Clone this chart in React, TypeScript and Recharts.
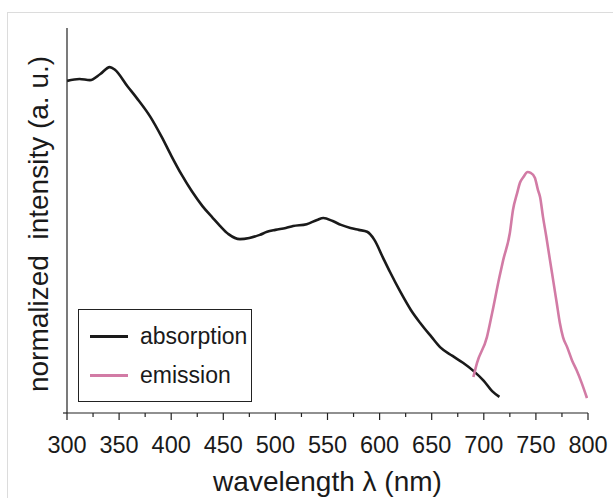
import React from "react";
import { LineChart, Line, XAxis, YAxis, Legend } from "recharts";

const absWavelength = [300, 312, 322, 332, 341, 346, 358, 367, 380, 391, 400, 410, 420, 430, 440, 447, 455, 466, 475, 485, 492, 500, 510, 517, 530, 540, 546, 555, 563, 572, 580, 588, 595, 603, 610, 620, 630, 639, 650, 658, 670, 680, 690, 700, 708, 715];
const absValues = [0.867, 0.872, 0.869, 0.885, 0.903, 0.896, 0.853, 0.822, 0.773, 0.72, 0.672, 0.622, 0.578, 0.54, 0.509, 0.488, 0.467, 0.454, 0.457, 0.465, 0.473, 0.478, 0.483, 0.488, 0.493, 0.504, 0.509, 0.501, 0.491, 0.483, 0.478, 0.473, 0.452, 0.407, 0.368, 0.316, 0.269, 0.235, 0.198, 0.172, 0.149, 0.131, 0.11, 0.084, 0.057, 0.042];

const emWavelength = [690, 693.5, 703, 708, 715, 718.6, 725, 728, 732, 734.7, 738, 742, 745, 749, 752, 754, 756.8, 760, 763.5, 767, 770, 773, 776, 780, 784.6, 789, 794, 799];
const emValues = [0.094, 0.131, 0.198, 0.261, 0.355, 0.399, 0.47, 0.53, 0.574, 0.601, 0.616, 0.629, 0.627, 0.614, 0.582, 0.564, 0.512, 0.46, 0.399, 0.339, 0.287, 0.235, 0.198, 0.172, 0.138, 0.112, 0.078, 0.039];

const xTicks = [300, 325, 350, 375, 400, 425, 450, 475, 500, 525, 550, 575, 600, 625, 650, 675, 700, 725, 750, 775, 800];

const absorption = absWavelength.map((w, i) => ({ x: w, y: absValues[i] }));
const emission = emWavelength.map((w, i) => ({ x: w, y: emValues[i] }));

const FONT = '"Liberation Sans", Arial, Helvetica, sans-serif';

const XTick = (props: any) => {
  const { x, y, payload } = props;
  const v = payload.value;
  const major = v % 50 === 0;
  return (
    <g>
      {v === 300 && <line x1={x - 4} x2={x} y1={y} y2={y} stroke="#222" strokeWidth={1.2} />}
      <line x1={x} x2={x} y1={y} y2={y + (major ? 7 : 4)} stroke="#222" strokeWidth={1.2} />
      {major && (
        <text x={x} y={y + 40} textAnchor="middle" fontSize={23.5} fill="#1a1a1a" fontFamily={FONT}>
          {v}
        </text>
      )}
    </g>
  );
};

const LegendBox = (props: any) => {
  const items = props.payload || [];
  return (
    <div
      style={{
        width: 174,
        height: 93,
        boxSizing: "border-box",
        border: "1.5px solid #222",
        background: "#fff",
        fontFamily: FONT,
        fontSize: 23,
        color: "#1a1a1a",
        position: "relative",
      }}
    >
      {items.map((it: any, i: number) => (
        <div
          key={it.value}
          style={{
            position: "absolute",
            left: 11,
            top: 26 + i * 39 - 14,
            height: 28,
            display: "flex",
            alignItems: "center",
            whiteSpace: "nowrap",
          }}
        >
          <span style={{ display: "inline-block", width: 38, height: 3, background: it.color, marginRight: 12 }} />
          <span>{it.value}</span>
        </div>
      ))}
    </div>
  );
};

export default function App() {
  return (
    <div style={{ position: "absolute", left: 0, top: 0, width: 613, height: 498, background: "#fff" }}>
      <div
        style={{
          position: "absolute",
          left: 7,
          top: 12,
          right: 0,
          bottom: 0,
          borderTop: "1.5px solid #dcdcdc",
          borderLeft: "1.5px solid #dcdcdc",
        }}
      />
      <div
        style={{
          position: "absolute",
          left: 39,
          top: 224,
          transform: "translate(-50%, -50%) rotate(-90deg)",
          fontFamily: FONT,
          fontSize: 28,
          color: "#1a1a1a",
          whiteSpace: "pre",
          lineHeight: "32px",
        }}
      >
        {"normalized  intensity (a. u.)"}
      </div>
      <LineChart
        width={613}
        height={498}
        margin={{ top: 28, right: 25, left: 57, bottom: 0 }}
        style={{ position: "absolute", left: 0, top: 0 }}
      >
        <XAxis
          type="number"
          dataKey="x"
          domain={[300, 800]}
          ticks={xTicks}
          interval={0}
          height={85}
          tickSize={0}
          tickMargin={0}
          tickLine={false}
          axisLine={{ stroke: "#222", strokeWidth: 1.2 }}
          tick={<XTick />}
          allowDataOverflow
          label={(p: any) => (
            <text x={327.5} y={491} textAnchor="middle" fontSize={28} fill="#1a1a1a" fontFamily={FONT}>
              wavelength λ (nm)
            </text>
          )}
        />
        <YAxis
          type="number"
          dataKey="y"
          domain={[0, 1.005]}
          width={10}
          tick={false}
          tickLine={false}
          axisLine={{ stroke: "#222", strokeWidth: 1.2 }}
        />
        <Legend
          layout="vertical"
          align="center"
          verticalAlign="middle"
          wrapperStyle={{ left: 78, top: 309, width: 174, height: 93 }}
          content={<LegendBox />}
        />
        <Line
          data={absorption}
          dataKey="y"
          name="absorption"
          type="monotone"
          stroke="#1a1a1a"
          strokeWidth={2.6}
          dot={false}
          isAnimationActive={false}
        />
        <Line
          data={emission}
          dataKey="y"
          name="emission"
          type="monotone"
          stroke="#d27ba5"
          strokeWidth={2.6}
          dot={false}
          isAnimationActive={false}
        />
      </LineChart>
    </div>
  );
}
